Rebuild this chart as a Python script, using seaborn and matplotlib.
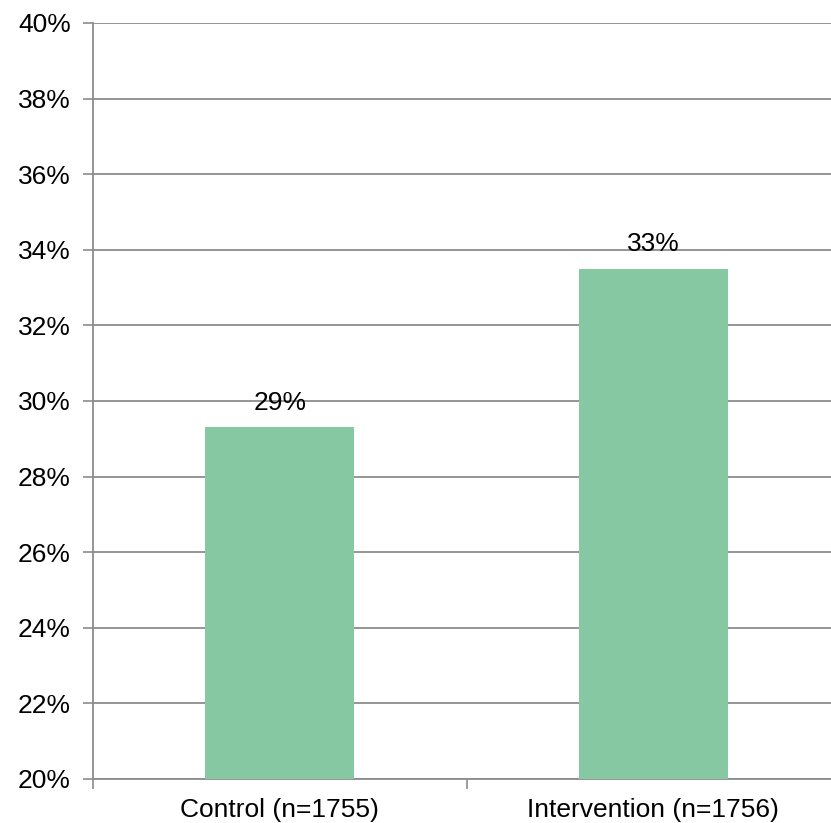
import numpy as np
import pandas as pd
import matplotlib
matplotlib.use("Agg")
import matplotlib.pyplot as plt
import seaborn as sns

groups = ["Control (n=1755)", "Intervention (n=1756)"]
rates = [29.3, 33.5]
rate_labels = ["29%", "33%"]
y_ticks = [20, 22, 24, 26, 28, 30, 32, 34, 36, 38, 40]

df = pd.DataFrame({"group": groups, "rate": rates})

sns.set_style("white")
plt.rcParams["font.family"] = ["Liberation Sans", "DejaVu Sans"]
plt.rcParams["text.color"] = "black"
plt.rcParams["xtick.color"] = "black"
plt.rcParams["ytick.color"] = "black"

fs = 19

fig = plt.figure(figsize=(8.31, 8.23), dpi=100)
ax = fig.add_axes([93 / 831, 44 / 823, 747 / 831, 756 / 823])

sns.barplot(data=df, x="group", y="rate", color="#85c8a2", saturation=1,
            width=0.4, linewidth=0, edgecolor="none", ax=ax, zorder=3)

ax.set_ylim(20, 40)
ax.set_xlim(-0.5, 1.5)
ax.set_yticks(y_ticks)
ax.set_yticklabels([f"{t}%" for t in y_ticks], fontsize=fs)
ax.set_xticks([-0.5, 0.5, 1.5], minor=False)
ax.set_xticklabels(["", "", ""])
ax.set_xticks([0, 1], minor=True)
ax.set_xticklabels(groups, minor=True, fontsize=fs)
ax.tick_params(axis="x", which="minor", bottom=True, length=0, pad=14,
               labelcolor="black")
ax.tick_params(axis="x", which="major", bottom=True, length=7, width=1.2,
               color="#8c8c8c")
ax.tick_params(axis="y", left=True, length=7, width=1.2, color="#8c8c8c",
               pad=9, labelcolor="black")
ax.set_xlabel("")
ax.set_ylabel("")

ax.yaxis.grid(True, color="#8c8c8c", linewidth=1.3, zorder=0)
ax.set_axisbelow(True)
for side in ["top", "right"]:
    ax.spines[side].set_visible(False)
for side in ["left", "bottom"]:
    ax.spines[side].set_color("#8c8c8c")
    ax.spines[side].set_linewidth(1.3)

for i, (v, lab) in enumerate(zip(rates, rate_labels)):
    ax.annotate(lab, (i, v), xytext=(0, 9), textcoords="offset points",
                ha="center", va="bottom", fontsize=fs, color="black",
                zorder=5)

fig.savefig("out.png", dpi=100)
